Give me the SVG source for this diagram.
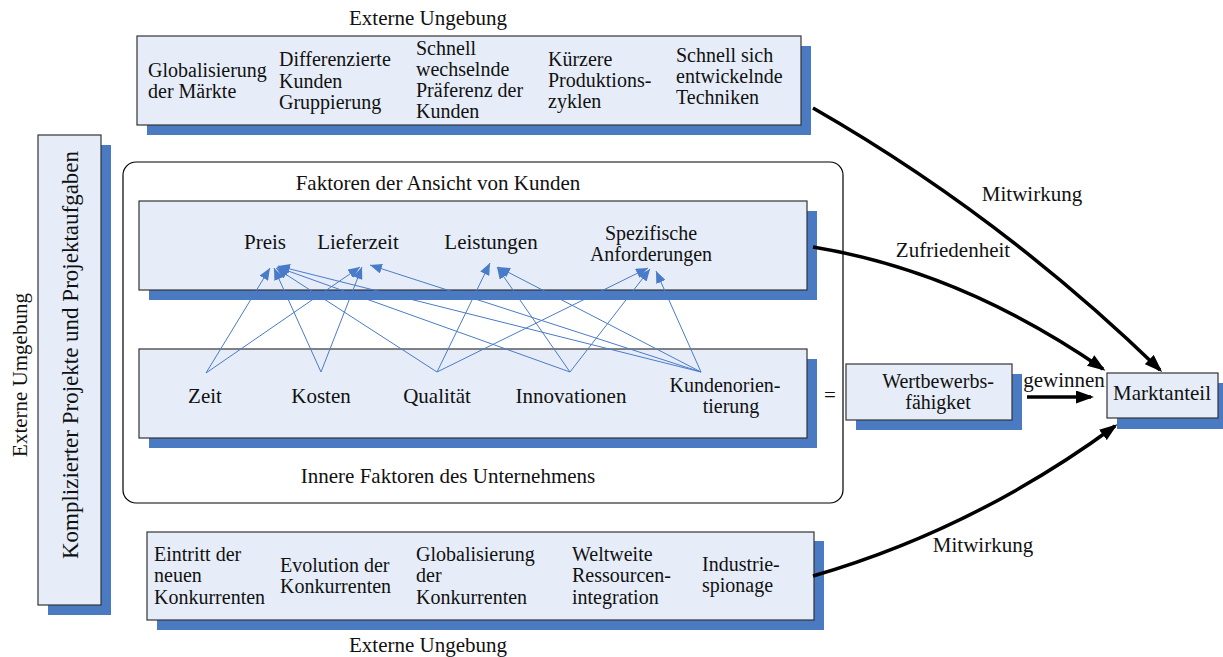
<svg xmlns="http://www.w3.org/2000/svg" width="1223" height="657" viewBox="0 0 1223 657">
<style>
text{font-family:"Liberation Serif","Times New Roman",serif;font-size:21px;fill:#111}
.m{font-size:20px}
.box{fill:#E6EDF8;stroke:#333;stroke-width:1.2}
.sh{fill:#4A7AC2}
.c{text-anchor:middle}
.thin{stroke:#4A7BC8;stroke-width:1;fill:none}
.thick{stroke:#000;stroke-width:3.5;fill:none}
</style>
<defs>
<marker id="ab" viewBox="0 0 12 10" refX="12" refY="5" markerWidth="12" markerHeight="10" orient="auto" markerUnits="userSpaceOnUse"><path d="M0,0 L12,5 L0,10 z" fill="#4A7BC8"/></marker>
<marker id="ak" viewBox="0 0 18 13" refX="15" refY="6.5" markerWidth="18" markerHeight="13" orient="auto" markerUnits="userSpaceOnUse"><path d="M0,0 L18,6.5 L0,13 z" fill="#000"/></marker>
</defs>
<rect width="1223" height="657" fill="#fff"/>

<g id="top-external">
<text class="c" x="428" y="25">Externe Ungebung</text>
<rect class="sh" x="147" y="46" width="664" height="89"/>
<rect class="box" x="137" y="36" width="664" height="89"/>
<g class="m">
<text class="m" x="148" y="77">Globalisierung</text><text class="m" x="148" y="98">der Märkte</text>
<text class="m" x="279" y="66">Differenzierte</text><text class="m" x="279" y="88">Kunden</text><text class="m" x="279" y="109">Gruppierung</text>
<text class="m" x="416" y="55">Schnell</text><text class="m" x="416" y="76">wechselnde</text><text class="m" x="416" y="97">Präferenz der</text><text class="m" x="416" y="118">Kunden</text>
<text class="m" x="548" y="66">Kürzere</text><text class="m" x="548" y="87">Produktions-</text><text class="m" x="548" y="108">zyklen</text>
<text class="m" x="676" y="62">Schnell sich</text><text class="m" x="676" y="83">entwickelnde</text><text class="m" x="676" y="104">Techniken</text>
</g>
</g>

<g id="left-external">
<text class="c" transform="translate(27,375) rotate(-90)">Externe Umgebung</text>
<rect class="sh" x="48" y="145" width="63" height="470"/>
<rect class="box" x="38" y="135" width="63" height="470"/>
<text class="c" style="font-size:23px" transform="translate(78,355) rotate(-90)">Komplizierter Projekte und Projektaufgaben</text>
</g>

<g id="inner-frame">
<rect x="123" y="162" width="720" height="341" rx="13" fill="none" stroke="#000" stroke-width="1.2"/>
<text class="c" x="438" y="190">Faktoren der Ansicht von Kunden</text>
<text class="c" x="448" y="483">Innere Faktoren des Unternehmens</text>
</g>

<g id="customer-factors">
<rect class="sh" x="149" y="211" width="668" height="89"/>
<rect class="box" x="139" y="201" width="668" height="89"/>
<text class="c" x="265" y="249">Preis</text>
<text class="c" x="358" y="249">Lieferzeit</text>
<text class="c" x="491" y="249">Leistungen</text>
<text class="c m" x="651" y="240">Spezifische</text>
<text class="c m" x="651" y="261">Anforderungen</text>
</g>

<g id="internal-factors">
<rect class="sh" x="149" y="359" width="668" height="89"/>
<rect class="box" x="139" y="349" width="668" height="89"/>
<text class="c" x="205" y="403">Zeit</text>
<text class="c" x="321" y="403">Kosten</text>
<text class="c" x="437" y="403">Qualität</text>
<text class="c" x="571" y="403">Innovationen</text>
<text class="c m" x="725" y="392">Kundenorien-</text>
<text class="c m" x="731" y="413">tierung</text>
</g>

<g id="equals"><text class="c" x="830" y="402">=</text></g>

<g id="wettbewerb">
<rect class="sh" x="856" y="374" width="166" height="56"/>
<rect class="box" x="846" y="364" width="166" height="56"/>
<text class="c m" x="938" y="388">Wertbewerbs-</text>
<text class="c m" x="938" y="409">fähigket</text>
</g>

<g id="marktanteil">
<rect class="sh" x="1117" y="383" width="106" height="46"/>
<rect class="box" x="1107" y="373" width="111" height="45"/>
<text class="c" x="1162" y="400">Marktanteil</text>
</g>

<g id="bottom-external">
<rect class="sh" x="157" y="541" width="667" height="89"/>
<rect class="box" x="147" y="532" width="667" height="88"/>
<text class="m" x="154" y="561">Eintritt der</text><text class="m" x="154" y="582">neuen</text><text class="m" x="154" y="604">Konkurrenten</text>
<text class="m" x="280" y="572">Evolution der</text><text class="m" x="280" y="593">Konkurrenten</text>
<text class="m" x="416" y="561">Globalisierung</text><text class="m" x="416" y="582">der</text><text class="m" x="416" y="604">Konkurrenten</text>
<text class="m" x="572" y="561">Weltweite</text><text class="m" x="572" y="582">Ressourcen-</text><text class="m" x="572" y="604">integration</text>
<text class="m" x="702" y="571">Industrie-</text><text class="m" x="702" y="592">spionage</text>
<text class="c" x="428" y="652">Externe Ungebung</text>
</g>

<g id="connectors">
<g class="thin" marker-end="url(#ab)">
<path d="M206,373 L270,268"/>
<path d="M206,373 L360,267"/>
<path d="M321,372 L274,268"/>
<path d="M321,372 L362,267"/>
<path d="M437,372 L276,268"/>
<path d="M437,372 L490,263"/>
<path d="M437,372 L648,268"/>
<path d="M570,372 L277,267"/>
<path d="M570,372 L497,267"/>
<path d="M570,372 L650,269"/>
<path d="M701,372 L278,266"/>
<path d="M701,372 L370,265"/>
<path d="M701,372 L498,267"/>
<path d="M701,372 L656,271"/>
</g>
<g class="thick" marker-end="url(#ak)">
<path d="M813,108 Q1000,215 1160,370"/>
<path d="M813,247 Q961,271 1103,369"/>
<path d="M813,576 Q975,529 1115,426"/>
<path d="M1027,397 L1091,397"/>
</g>
<text class="c" x="1032" y="201">Mitwirkung</text>
<text class="c" x="953" y="257">Zufriedenheit</text>
<text class="c" x="983" y="552">Mitwirkung</text>
<text class="c" x="1064" y="387">gewinnen</text>
</g>
</svg>
